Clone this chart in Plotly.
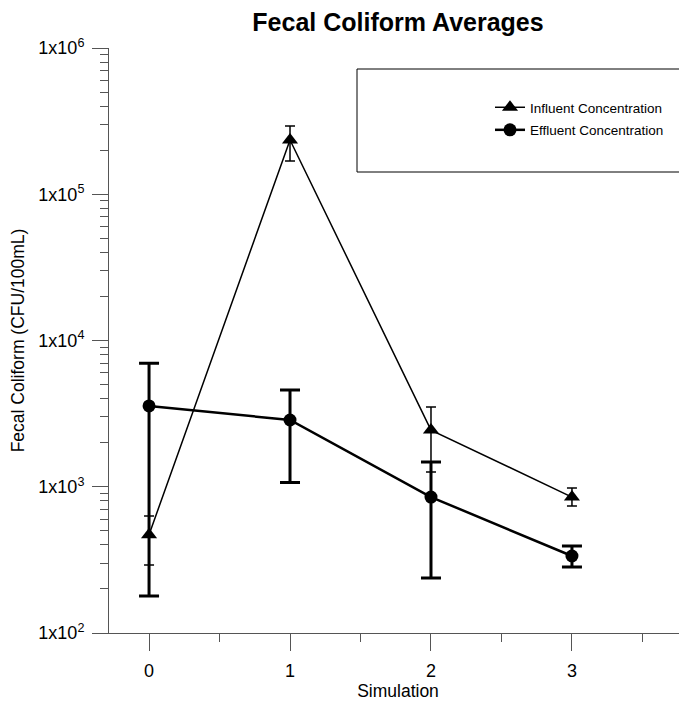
import plotly.graph_objects as go

simulation = [0, 1, 2, 3]

influent = [470, 235000, 2440, 850]
influent_upper = [632, 293000, 3510, 980]
influent_lower = [292, 169000, 1260, 738]

effluent = [3570, 2860, 850, 336]
effluent_upper = [7000, 4590, 1475, 393]
effluent_lower = [179, 1070, 238, 283]

x_tick_labels = ["0", "1", "2", "3"]
y_tick_vals = [1e2, 1e3, 1e4, 1e5, 1e6]
y_tick_text = ["1x10<sup>2</sup>", "1x10<sup>3</sup>", "1x10<sup>4</sup>",
               "1x10<sup>5</sup>", "1x10<sup>6</sup>"]

inf_plus = [u - v for u, v in zip(influent_upper, influent)]
inf_minus = [v - l for v, l in zip(influent, influent_lower)]
eff_plus = [u - v for u, v in zip(effluent_upper, effluent)]
eff_minus = [v - l for v, l in zip(effluent, effluent_lower)]

FONT = "Liberation Sans, Arial, sans-serif"
AX = "#555555"

# page body has an 8px margin, so the figure is 8px smaller than the window
W, H = 679, 695
L, T, B = 101, 40, 70
PW, PH = W - L, H - T - B

fig = go.Figure()
fig.add_trace(go.Scatter(
    x=simulation, y=influent, name="Influent Concentration",
    mode="lines+markers", legendgroup="inf",
    line=dict(color="black", width=1.5),
    marker=dict(symbol="triangle-up", size=14, color="black"),
    error_y=dict(type="data", symmetric=False, array=inf_plus, arrayminus=inf_minus,
                 color="black", thickness=1.5, width=5),
))
fig.add_trace(go.Scatter(
    x=simulation, y=effluent, name="Effluent Concentration",
    mode="lines+markers", legendgroup="eff",
    line=dict(color="black", width=2.5),
    marker=dict(symbol="circle", size=13, color="black"),
    error_y=dict(type="data", symmetric=False, array=eff_plus, arrayminus=eff_minus,
                 color="black", thickness=3, width=10),
))

minor_y = []
for d in [1e2, 1e3, 1e4, 1e5]:
    for m in range(2, 10):
        minor_y.append(d * m)

fig.update_layout(
    width=W, height=H,
    margin=dict(l=L, r=0, t=T, b=B),
    paper_bgcolor="white", plot_bgcolor="white",
    font=dict(family=FONT, color="black"),
    title=dict(text="<b>Fecal Coliform Averages</b>", x=390 / W, xanchor="center",
               xref="container", y=1 - 5 / H, yanchor="top", yref="container",
               pad=dict(t=0, b=0, l=0, r=0),
               font=dict(size=25, family=FONT)),
    showlegend=True,
    legend=dict(x=(482 - L) / PW, y=1 - (84 - T) / PH, xanchor="left", yanchor="top",
                bgcolor="rgba(0,0,0,0)", borderwidth=0,
                font=dict(size=13.5, family=FONT), tracegroupgap=2, itemwidth=30),
    shapes=[dict(type="rect", xref="paper", yref="paper",
                 x0=(349 - L) / PW, x1=(672 - L) / PW,
                 y0=1 - (164 - T) / PH, y1=1 - (61 - T) / PH,
                 line=dict(color="black", width=1), fillcolor="rgba(0,0,0,0)", layer="below")],
)

fig.update_xaxes(
    range=[-0.284, 3.816],
    tickvals=simulation, ticktext=x_tick_labels,
    ticks="outside", ticklen=17, tickcolor=AX, tickwidth=1,
    showline=True, linecolor=AX, linewidth=1,
    showgrid=False, zeroline=False,
    tickfont=dict(size=18, family=FONT), ticklabelstandoff=4,
    minor=dict(dtick=0.5, tick0=0, ticks="outside", ticklen=8, tickcolor=AX, showgrid=False),
    title=dict(text="Simulation", font=dict(size=17.5, family=FONT), standoff=5),
)
fig.update_yaxes(
    type="log", range=[2, 6],
    tickvals=y_tick_vals, ticktext=y_tick_text,
    ticks="outside", ticklen=16, tickcolor=AX, tickwidth=1,
    showline=True, linecolor=AX, linewidth=1,
    showgrid=False, zeroline=False,
    tickfont=dict(size=18, family=FONT), ticklabelstandoff=4,
    minor=dict(tickvals=minor_y, ticks="outside", ticklen=8, tickcolor=AX, showgrid=False),
    title=dict(text="Fecal Coliform (CFU/100mL)", font=dict(size=17.5, family=FONT), standoff=10),
)

fig.write_html("out.html")
